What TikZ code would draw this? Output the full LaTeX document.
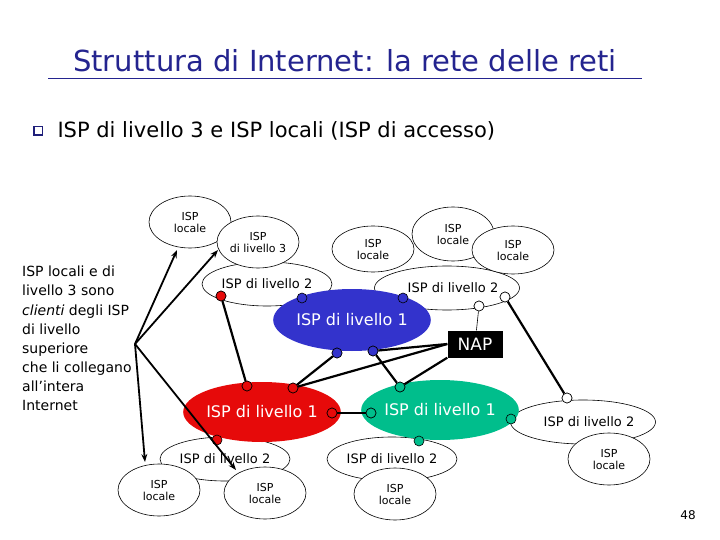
\documentclass[tikz,border=0pt]{standalone}
\usepackage{fontspec}
\setmainfont{DejaVu Sans}
\usetikzlibrary{shapes.geometric,arrows.meta}
\definecolor{blu}{RGB}{51,51,204}
\definecolor{rosso}{RGB}{230,10,10}
\definecolor{verde}{RGB}{0,190,140}
\begin{document}
\begin{tikzpicture}[x=1pt,y=-1pt,
  ell/.style={ellipse,draw,fill=white,line width=0.6pt,inner sep=0pt,align=center,font=\fontsize{11}{12}\selectfont},
  big/.style={ellipse,inner sep=0pt,text=white,font=\fontsize{16}{18}\selectfont},
  dot/.style={circle,draw,inner sep=0pt,minimum size=10pt,line width=0.6pt},
  bd/.style={dot,fill=blu}, rd/.style={dot,fill=rosso}, gd/.style={dot,fill=verde}, wd/.style={dot,fill=white},
  link/.style={line width=2.2pt},
  arr/.style={line width=1.8pt,-{Stealth[length=8pt,width=6pt]}},
  l2/.style={ell,minimum width=130pt,minimum height=44pt,font=\fontsize{13}{14}\selectfont},
  loc/.style={ell,minimum width=82pt,minimum height=52pt}]
\useasboundingbox (0,0) rectangle (720,540);
\node[font=\fontsize{29}{31}\selectfont,blu!70!black] (title) at (345,61) {Struttura di Internet: la rete delle reti};
\draw[blu!70!black,line width=1pt] (48,79) -- (642,79);
\node[fill=blu!60!black,minimum size=10pt,inner sep=0pt] (bul) at (38,131) {};
\node[fill=white,minimum size=7pt,inner sep=0pt] at (bul) {};
\node[anchor=west,font=\fontsize{21}{23}\selectfont] (sub) at (54,131) {ISP di livello 3 e ISP locali (ISP di accesso)};
\node[anchor=north west,align=left,font=\fontsize{14}{19.1}\selectfont,inner sep=0pt] (txt) at (22,266) {ISP locali e di\\livello 3 sono\\\textit{clienti} degli ISP\\di livello\\superiore\\che li collegano\\all’intera\\Internet};
% level 2 ellipses
\node[l2] (L2a) at (267,284) {ISP di livello 2};
\node[l2] (L2b) at (447,288) {\hspace*{12pt}ISP di livello 2};
\node[l2] (L2c) at (225,459) {ISP di livello 2};
\node[l2] (L2d) at (392,459) {ISP di livello 2};
\node[l2] (L2e) at (583,422) {\hspace*{12pt}ISP di livello 2};
% locals
\node[loc] (La) at (190,222) {ISP\\locale};
\node[loc] (L3) at (258,242) {ISP\\di livello 3};
\node[loc,minimum height=54pt] (Lc) at (453,234) {ISP\\locale};
\node[loc,minimum height=46pt] (Lb) at (373,249) {ISP\\locale};
\node[loc,minimum height=48pt] (Ld) at (513,250) {ISP\\locale};
\node[loc] (Le) at (159,490) {ISP\\locale};
\node[loc] (Lf) at (265,493) {ISP\\locale};
\node[loc] (Lg) at (395,494) {ISP\\locale};
\node[loc] (Lh) at (609,459) {ISP\\locale};
% level 1
\node[big,fill=blu,minimum width=148pt,minimum height=62pt] (B) at (352,320) {ISP di livello 1};
\node[big,fill=rosso,minimum width=144pt,minimum height=60pt] (R) at (262,412) {ISP di livello 1};
\node[big,fill=verde,minimum width=140pt,minimum height=60pt] (G) at (440,410) {ISP di livello 1};
\node[fill=black,text=white,minimum width=55pt,minimum height=27pt,inner sep=0pt,font=\fontsize{17}{18}\selectfont] (NAP) at (475,344) {NAP};
% dots
\node[rd] (r1) at (221,296) {};
\node[bd] (b1) at (302,298) {};
\node[bd] (b2) at (403,298) {};
\node[wd] (w1) at (479,306) {};
\node[wd] (w2) at (505,297) {};
\node[bd] (b3) at (337,353) {};
\node[bd] (b4) at (373,351) {};
\node[rd] (r2) at (247,386) {};
\node[rd] (r3) at (293,388) {};
\node[rd] (r4) at (332,413) {};
\node[rd] (r5) at (217,440) {};
\node[gd] (g1) at (400,387) {};
\node[gd] (g2) at (371,413) {};
\node[gd] (g3) at (511,419) {};
\node[gd] (g4) at (419,441) {};
\node[wd] (w3) at (567,398) {};
% links
\draw[link] (r1) -- (r2);
\draw[link] (b3) -- (r3);
\draw[link] (b4) -- (g1);
\draw[link] (NAP.west) -- (b4);
\draw[link] (NAP.west) -- (r3);
\draw[link] (NAP.south west) -- (g1);
\draw[link] (r4) -- (g2);
\draw[link] (w2) -- (w3);
\draw[line width=0.6pt] (w1) -- (NAP);
% redraw dots on top
\foreach \n/\s in {r1/rd,r2/rd,r3/rd,r4/rd,b3/bd,b4/bd,g1/gd,g2/gd,w2/wd,w3/wd,w1/wd}{\node[\s] at (\n) {};}
% arrows
\coordinate (o) at (135,344);
\draw[arr] (o) -- (177,250);
\draw[arr] (o) -- (218,250);
\draw[arr] (o) -- (145,462);
\draw[arr] (o) -- (236,470);
\node[font=\fontsize{12}{13}\selectfont] (pg) at (688,515) {48};
\end{tikzpicture}
\end{document}
